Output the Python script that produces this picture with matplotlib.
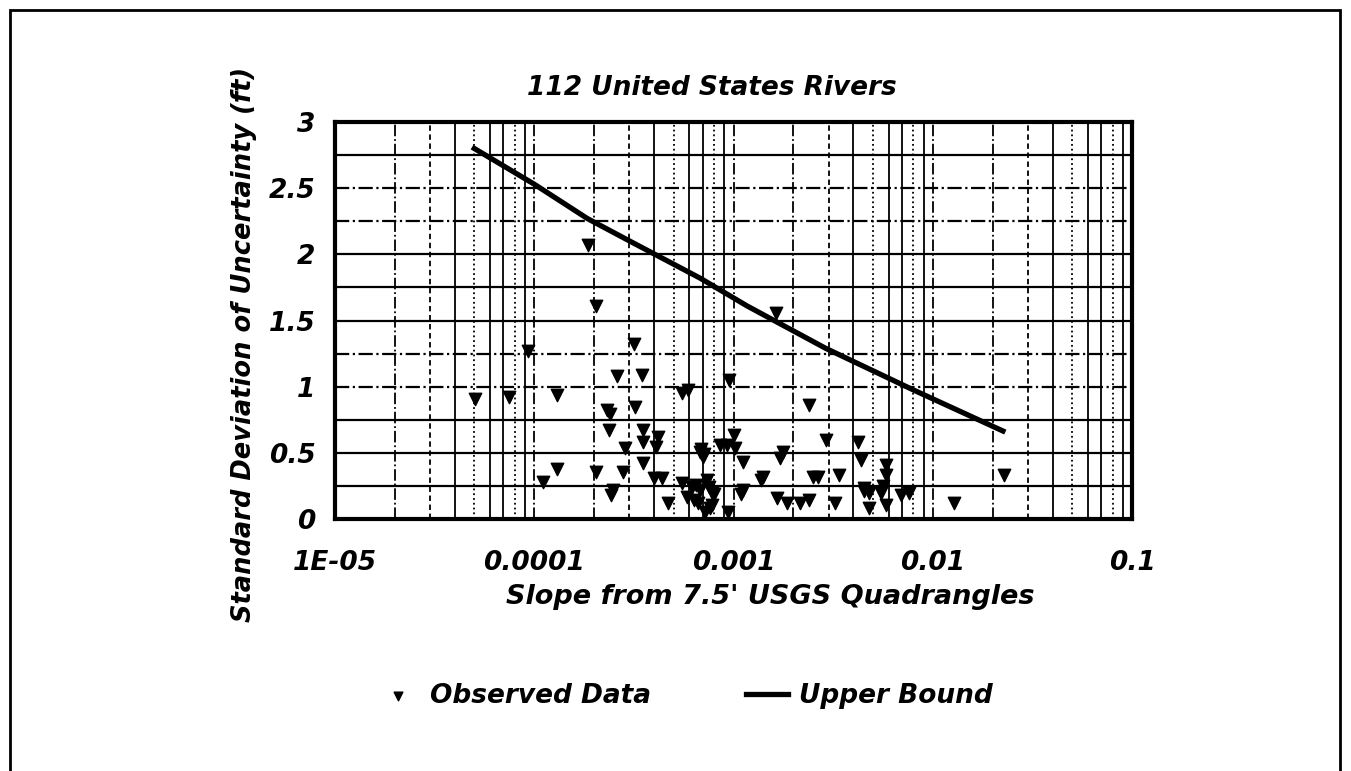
import numpy as np
import matplotlib
matplotlib.use("Agg")
import matplotlib.pyplot as plt
from matplotlib.patches import Rectangle

W, H = 1351, 771

# observed data (slope, std dev of uncertainty in ft)
obs_slope = [5.05e-5, 7.5e-5, 9.3e-5, 1.30e-4, 1.11e-4, 1.30e-4,
             1.86e-4, 2.03e-4, 2.03e-4, 2.60e-4, 2.33e-4, 2.40e-4, 2.37e-4, 2.48e-4, 2.42e-4,
             2.80e-4, 3.18e-4, 3.47e-4, 3.22e-4, 2.86e-4, 3.50e-4, 3.50e-4, 3.50e-4,
             4.2e-4, 4.1e-4, 3.97e-4, 4.4e-4, 4.7e-4,
             5.5e-4, 5.9e-4, 5.5e-4, 5.85e-4, 6.2e-4, 6.8e-4, 7.4e-4, 7.8e-4, 6.6e-4,
             7.8e-4, 7.2e-4, 9.4e-4, 6.5e-4, 7.5e-4, 8.0e-4, 6.3e-4, 7.6e-4,
             6.8e-4, 7.0e-4, 6.9e-4, 7.1e-4, 8.6e-4, 9.3e-4, 9.5e-4, 1.0e-3, 1.02e-3,
             1.11e-3, 1.11e-3, 1.09e-3,
             1.40e-3, 1.38e-3, 1.63e-3, 1.72e-3, 1.78e-3, 1.66e-3, 1.86e-3, 2.16e-3,
             2.38e-3, 2.5e-3, 2.65e-3, 2.38e-3, 2.9e-3, 3.37e-3, 3.25e-3,
             4.2e-3, 4.35e-3, 5.8e-3, 5.8e-3, 4.5e-3, 4.8e-3, 5.5e-3, 5.8e-3,
             6.9e-3, 7.6e-3, 4.8e-3, 4.5e-3, 5.6e-3, 1.28e-2, 2.27e-2]
obs_sd = [0.91, 0.92, 1.27, 0.94, 0.28, 0.38,
          2.07, 1.61, 0.355, 1.08, 0.82, 0.79, 0.67, 0.22, 0.18,
          0.355, 1.32, 1.09, 0.85, 0.54, 0.67, 0.58, 0.42,
          0.62, 0.545, 0.31, 0.31, 0.12,
          0.95, 0.975, 0.27, 0.166, 0.24, 0.22, 0.295, 0.20, 0.12,
          0.105, 0.05, 0.05, 0.26, 0.24, 0.19, 0.14, 0.08,
          0.51, 0.47, 0.53, 0.49, 0.56, 0.56, 1.05, 0.635, 0.54,
          0.43, 0.22, 0.19,
          0.32, 0.295, 1.56, 0.46, 0.51, 0.16, 0.12, 0.12,
          0.14, 0.32, 0.32, 0.86, 0.60, 0.33, 0.12,
          0.58, 0.445, 0.41, 0.33, 0.235, 0.20, 0.195, 0.105,
          0.18, 0.20, 0.08, 0.21, 0.25, 0.12, 0.33]

# upper bound curve
ub_slope = [5.0e-5, 1.0e-4, 1.85e-4, 2.93e-4, 6.8e-4, 1.17e-3, 2.9e-3, 8.0e-3, 2.25e-2]
ub_sd = [2.80, 2.53, 2.27, 2.11, 1.82, 1.61, 1.29, 0.975, 0.665]

xticks = [1e-5, 1e-4, 1e-3, 1e-2, 1e-1]
xlabels = ["1E-05", "0.0001", "0.001", "0.01", "0.1"]
yticks = [0, 0.5, 1, 1.5, 2, 2.5, 3]
ylabels = ["0", "0.5", "1", "1.5", "2", "2.5", "3"]

font = dict(family="DejaVu Sans", weight="bold", style="italic")

fig = plt.figure(figsize=(W / 100, H / 100), dpi=100)
ax = fig.add_axes([335 / W, 1 - 519 / H, (1132 - 335) / W, (519 - 122) / H])

ax.set_xscale("log")
ax.set_xlim(1e-5, 1e-1)
ax.set_ylim(0, 3)

# grid lines, mixed styles like the scanned original
hstyles = ["-", "-", "-", "-.", "-.", "-", "-", "-", "-.", "-.", "-"]
for i, lev in enumerate(np.arange(0.25, 3.0, 0.25)):
    ax.axhline(lev, color="black", lw=1.6, ls=hstyles[i], zorder=1)
vstyles = {2: "-.", 3: (0, (3, 2)), 4: "-", 5: ":", 6: "-", 7: "-", 8: ":", 9: "-"}
for dec in [1e-5, 1e-4, 1e-3, 1e-2]:
    for m in range(2, 10):
        ax.axvline(dec * m, color="black", lw=1.3, ls=vstyles[m], zorder=1)
    if dec > 1e-5:
        ax.axvline(dec, color="black", lw=1.3, ls="-.", zorder=1)

ax.scatter(obs_slope, obs_sd, marker="v", s=80, color="black", zorder=3,
           label="Observed Data")
ax.plot(ub_slope, ub_sd, color="black", lw=3.8, zorder=4, label="Upper Bound")

ax.set_xticks(xticks)
ax.set_xticklabels(xlabels, fontsize=19, **font)
ax.set_yticks(yticks)
ax.set_yticklabels(ylabels, fontsize=19, **font)
ax.minorticks_off()
ax.tick_params(axis="x", length=0, pad=22)
ax.tick_params(axis="y", length=0, pad=14)
for s in ax.spines.values():
    s.set_linewidth(3)

fig.text(712 / W, 1 - 88 / H, "112 United States Rivers", ha="center", va="center",
         fontsize=19, **font)
fig.text(770 / W, 1 - 597 / H, "Slope from 7.5' USGS Quadrangles", ha="center",
         va="center", fontsize=19.5, **font)
fig.text(244 / W, 1 - 344 / H, "Standard Deviation of Uncertainty (ft)", ha="center",
         va="center", rotation=90, fontsize=18.5, **font)

h, l = ax.get_legend_handles_labels()
leg = fig.legend(h, l, loc="center", bbox_to_anchor=(685 / W, 1 - 696 / H), ncol=2,
                 frameon=False, prop=dict(size=19, **font), handlelength=1.6,
                 handletextpad=0.4, columnspacing=3.6, markerscale=0.7)

# outer border (bottom edge falls outside the picture)
fig.patches.append(Rectangle((10 / W, -0.05), 1330 / W, 1.05 - 10 / H,
                             transform=fig.transFigure, fill=False, lw=2,
                             edgecolor="black"))

fig.savefig("out.png", dpi=100)
